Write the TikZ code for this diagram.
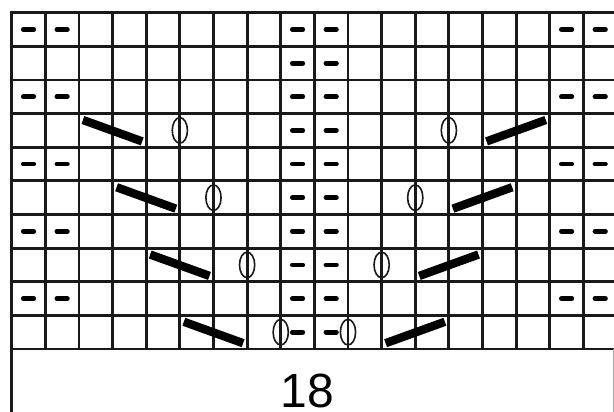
\documentclass[tikz,border=0pt]{standalone}
\usepackage{fontspec}
\setmainfont{Liberation Sans}
\begin{document}
\begin{tikzpicture}[x=1pt,y=-1pt,
  gridline/.style={line width=2.8pt,draw=black!90},
  dashmark/.style={line width=4.8pt,line cap=round,draw=black},
  ovalmark/.style={line width=1.6pt,draw=black!90},
  barmark/.style={line width=8.4pt,line cap=butt,draw=black},
  boxedge/.style={line width=0.8pt,draw=black!35}]
\useasboundingbox (0,0) rectangle (614,412);
\clip (0,0) rectangle (614,412);
\fill[white] (0,0) rectangle (614,412);
\def\s{33.63}
\def\xo{11.7}
\def\yo{12.7}
% grid
\foreach \i in {0,...,18}
  \draw[gridline] ({\xo+\i*\s},\yo) -- ({\xo+\i*\s},{\yo+10*\s});
\foreach \j in {0,...,10}
  \draw[gridline] (\xo-1.4,{\yo+\j*\s}) -- (620,{\yo+\j*\s});
% bottom box
\draw[gridline,line width=3pt] (\xo,{\yo+10*\s}) -- (\xo,414);
\draw[boxedge] (613,{\yo+10*\s}) -- (613,414);
\node[inner sep=0pt,anchor=base,font=\fontsize{48}{50}\selectfont] (lbl) at (307.2,407.5) {18};
% purl dashes
\foreach \r in {1,3,5,7,9}
  \foreach \c in {1,2,9,10,17,18}
    \draw[dashmark] ({\xo+(\c-0.5)*\s-5.2},{\yo+(\r-0.5)*\s}) -- ++(10.4,0);
\foreach \r in {2,4,6,8,10}
  \foreach \c in {9,10}
    \draw[dashmark] ({\xo+(\c-0.5)*\s-5.2},{\yo+(\r-0.5)*\s}) -- ++(10.4,0);
% yarn overs
\foreach \i/\r in {5/4,13/4,6/6,12/6,7/8,11/8,8/10,10/10}
  \draw[ovalmark] ({\xo+\i*\s},{\yo+(\r-0.5)*\s}) ellipse [x radius=7.6pt, y radius=12.8pt];
% decreases, left (descending)
\foreach \c/\r in {3/4,4/6,5/8,6/10}
  \draw[barmark] ({\xo+(\c-1)*\s+4},{\yo+(\r-1)*\s+6.4}) -- ({\xo+(\c+1)*\s-4},{\yo+\r*\s-5.8});
% decreases, right (ascending)
\foreach \c/\r in {15/4,14/6,13/8,12/10}
  \draw[barmark] ({\xo+(\c-1)*\s+4},{\yo+\r*\s-5.8}) -- ({\xo+(\c+1)*\s-4},{\yo+(\r-1)*\s+6.4});
\end{tikzpicture}
\end{document}
